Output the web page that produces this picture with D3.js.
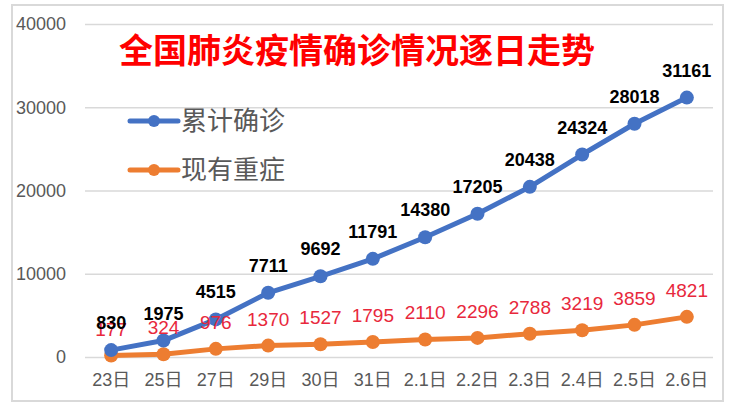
<!DOCTYPE html>
<html>
<head>
<meta charset="utf-8">
<script src="https://cdn.jsdelivr.net/npm/d3@7"></script>
<style>
  html, body { margin: 0; padding: 0; background: #fff; }
  svg { display: block; }
</style>
</head>
<body>
<svg id="chart" width="738" height="407"></svg>
<script>
const categories = ["23日","25日","27日","29日","30日","31日","2.1日","2.2日","2.3日","2.4日","2.5日","2.6日"];
const confirmed = [830,1975,4515,7711,9692,11791,14380,17205,20438,24324,28018,31161];
const severe = [177,324,976,1370,1527,1795,2110,2296,2788,3219,3859,4821];
const yTicks = [0,10000,20000,30000,40000];
const seriesNames = ["累计确诊","现有重症"];
const titleText = "全国肺炎疫情确诊情况逐日走势";

(function () {
const svg = d3.select("#chart");
const plotLeft = 85, plotRight = 713, plotTop = 24, plotBottom = 357;
const numFont = "'Liberation Sans', 'Noto Sans CJK SC', sans-serif";
const cjkFont = "'Noto Sans CJK SC', sans-serif";

// outer border
svg.append("rect").attr("x", 12).attr("y", 5).attr("width", 711).attr("height", 396)
  .attr("fill", "#fff").attr("stroke", "#d9d9d9").attr("stroke-width", 2);

const x = d3.scaleBand().domain(categories).range([plotLeft, plotRight]).padding(0);
const y = d3.scaleLinear().domain([0, 40000]).range([plotBottom, plotTop]);

// y axis with gridlines
const yAxis = svg.append("g").attr("transform", `translate(${plotLeft},0)`)
  .call(d3.axisLeft(y).tickValues(yTicks).tickSize(-(plotRight - plotLeft)).tickPadding(19).tickFormat(d3.format("d")));
yAxis.select(".domain").remove();
yAxis.selectAll(".tick line").attr("stroke", "#d9d9d9").attr("stroke-width", 1.5);
yAxis.selectAll(".tick text").attr("fill", "#595959").attr("font-size", 18).attr("font-family", numFont);

// x axis
const xAxis = svg.append("g").attr("transform", `translate(0,${plotBottom})`)
  .call(d3.axisBottom(x).tickSize(0).tickPadding(16));
xAxis.select(".domain").remove();
xAxis.selectAll(".tick text").attr("fill", "#595959").attr("font-size", 18).attr("font-family", numFont);

const cx = d => x(d) + x.bandwidth() / 2;
const line = d3.line().x((d, i) => cx(categories[i])).y(d => y(d));

function drawSeries(data, color) {
  svg.append("path").datum(data).attr("d", line)
    .attr("fill", "none").attr("stroke", color).attr("stroke-width", 5).attr("stroke-linejoin", "round");
  svg.append("g").selectAll("circle").data(data).join("circle")
    .attr("cx", (d, i) => cx(categories[i])).attr("cy", d => y(d)).attr("r", 7).attr("fill", color);
}
drawSeries(severe, "#ED7D31");
drawSeries(confirmed, "#4472C4");

// labels
svg.append("g").selectAll("text").data(severe).join("text")
  .attr("x", (d, i) => cx(categories[i])).attr("y", d => y(d) - 20)
  .attr("text-anchor", "middle").attr("font-size", 19).attr("font-family", numFont)
  .attr("fill", "#E8283C").text(d => d);
svg.append("g").selectAll("text").data(confirmed).join("text")
  .attr("x", (d, i) => cx(categories[i])).attr("y", d => y(d) - 21)
  .attr("text-anchor", "middle").attr("font-size", 18).attr("font-weight", "bold").attr("font-family", numFont)
  .attr("fill", "#000").text(d => d);

// title
svg.append("text").attr("x", 357).attr("y", 63).attr("text-anchor", "middle")
  .attr("font-size", 34).attr("font-weight", "bold").attr("font-family", cjkFont)
  .attr("fill", "#FF0000").text(titleText);

// legend
const legendColors = ["#4472C4", "#ED7D31"];
const legendY = [121, 170];
seriesNames.forEach((name, i) => {
  const g = svg.append("g");
  g.append("line").attr("x1", 130).attr("x2", 178).attr("y1", legendY[i]).attr("y2", legendY[i])
    .attr("stroke", legendColors[i]).attr("stroke-width", 5).attr("stroke-linecap", "round");
  g.append("circle").attr("cx", 154).attr("cy", legendY[i]).attr("r", 6).attr("fill", legendColors[i]);
  g.append("text").attr("x", 181).attr("y", legendY[i]).attr("dy", "0.35em")
    .attr("font-size", 26).attr("font-family", cjkFont).attr("fill", "#595959").text(name);
});
})();
</script>
</body>
</html>
